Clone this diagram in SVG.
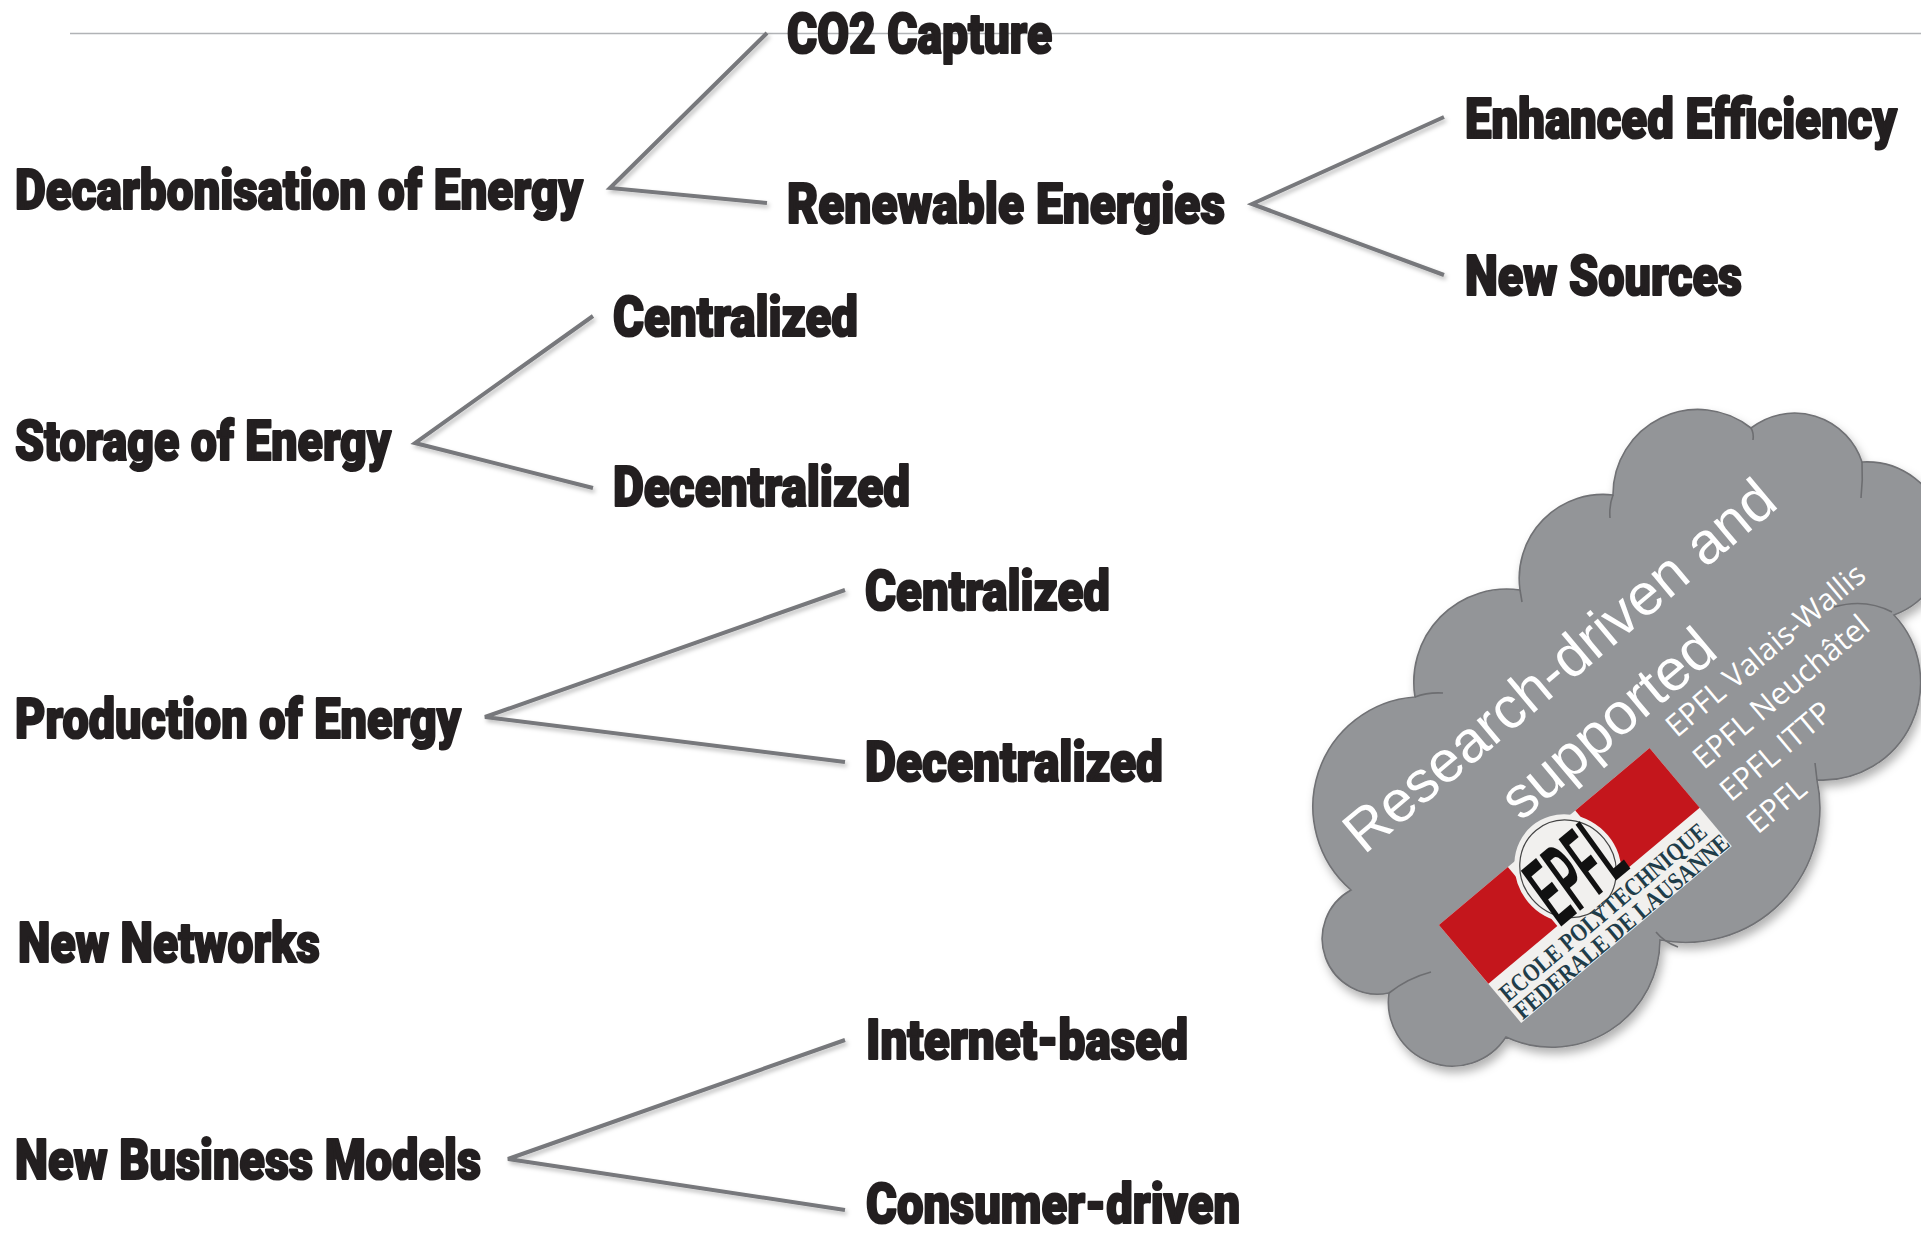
<svg xmlns="http://www.w3.org/2000/svg" width="1921" height="1234" viewBox="0 0 1921 1234">
<defs>
<style>
.lbl{font-family:Roboto,'Liberation Sans','DejaVu Sans',sans-serif;font-weight:900;font-size:56px;fill:#231f20;stroke:#231f20;stroke-width:2.2;stroke-linejoin:round}
.con{fill:none;stroke:#77787b;stroke-width:4;stroke-linejoin:miter}
.big{font-family:'Liberation Sans',Arial,sans-serif;font-size:58.5px;fill:#ffffff}
.sm{font-family:'Open Sans','Noto Sans',sans-serif;font-size:30.5px;fill:#ffffff}
.tick{fill:none;stroke:#6d6e71;stroke-width:1.6}
.band{font-family:'Liberation Serif','Times New Roman',serif;font-size:25px;font-weight:700;fill:#1f3d4a}
</style>
<filter id="lsh" x="-10%" y="-10%" width="120%" height="130%">
<feDropShadow dx="2" dy="3" stdDeviation="2" flood-color="#000" flood-opacity="0.25"/>
</filter>
<filter id="csh" x="-10%" y="-10%" width="125%" height="125%">
<feDropShadow dx="3" dy="6" stdDeviation="5" flood-color="#000" flood-opacity="0.3"/>
</filter>
</defs>
<rect x="0" y="0" width="1921" height="1234" fill="#ffffff"/>
<line x1="70" y1="33.5" x2="1921" y2="33.5" stroke="#b1b3b6" stroke-width="1.6"/>

<g id="connectors" filter="url(#lsh)">
<path class="con" d="M767 33 L610 188 L767 203"/>
<path class="con" d="M1444 117 L1252 204 L1444 275"/>
<path class="con" d="M593 316 L415 443 L593 488"/>
<path class="con" d="M845 590 L485 717 L845 762"/>
<path class="con" d="M845 1040 L508 1159 L845 1210"/>
</g>

<g id="n-co2"><text class="lbl" transform="translate(787,53) scale(0.7,1)" textLength="378.6" lengthAdjust="spacingAndGlyphs">CO2 Capture</text></g>
<g id="n-decarb"><text class="lbl" transform="translate(15,209) scale(0.7,1)" textLength="811.4" lengthAdjust="spacingAndGlyphs">Decarbonisation of Energy</text></g>
<g id="n-renew"><text class="lbl" transform="translate(787,223) scale(0.7,1)" textLength="625.7" lengthAdjust="spacingAndGlyphs">Renewable Energies</text></g>
<g id="n-enh"><text class="lbl" transform="translate(1465,138) scale(0.7,1)" textLength="617.1" lengthAdjust="spacingAndGlyphs">Enhanced Efficiency</text></g>
<g id="n-newsrc"><text class="lbl" transform="translate(1465,295) scale(0.7,1)" textLength="395.7" lengthAdjust="spacingAndGlyphs">New Sources</text></g>
<g id="n-s-cent"><text class="lbl" transform="translate(613,336) scale(0.7,1)" textLength="350" lengthAdjust="spacingAndGlyphs">Centralized</text></g>
<g id="n-storage"><text class="lbl" transform="translate(15,460) scale(0.7,1)" textLength="537.1" lengthAdjust="spacingAndGlyphs">Storage of Energy</text></g>
<g id="n-s-dec"><text class="lbl" transform="translate(613,506) scale(0.7,1)" textLength="424.3" lengthAdjust="spacingAndGlyphs">Decentralized</text></g>
<g id="n-p-cent"><text class="lbl" transform="translate(865,610) scale(0.7,1)" textLength="350" lengthAdjust="spacingAndGlyphs">Centralized</text></g>
<g id="n-prod"><text class="lbl" transform="translate(15,738) scale(0.7,1)" textLength="637.1" lengthAdjust="spacingAndGlyphs">Production of Energy</text></g>
<g id="n-p-dec"><text class="lbl" transform="translate(865,781) scale(0.7,1)" textLength="425.7" lengthAdjust="spacingAndGlyphs">Decentralized</text></g>
<g id="n-networks"><text class="lbl" transform="translate(18,962) scale(0.7,1)" textLength="431.4" lengthAdjust="spacingAndGlyphs">New Networks</text></g>
<g id="n-internet"><text class="lbl" transform="translate(866,1059) scale(0.7,1)" textLength="460" lengthAdjust="spacingAndGlyphs">Internet-based</text></g>
<g id="n-business"><text class="lbl" transform="translate(15,1179) scale(0.7,1)" textLength="665.7" lengthAdjust="spacingAndGlyphs">New Business Models</text></g>
<g id="n-consumer"><text class="lbl" transform="translate(866,1223) scale(0.7,1)" textLength="534.3" lengthAdjust="spacingAndGlyphs">Consumer-driven</text></g>

<g id="cloud">
<path filter="url(#csh)" fill="#939598" stroke="#707174" stroke-width="1.6" d="M1613 495 A85 85 0 0 1 1751 428 A71 71 0 0 1 1862 462 A79 79 0 0 1 1894 615 A98 98 0 0 1 1817 780 A134.5 134.5 0 0 1 1660 940 A108 108 0 0 1 1506 1037 A64 64 0 0 1 1389 993 A55.5 55.5 0 0 1 1351 890 A110 110 0 0 1 1415 697 A93 93 0 0 1 1520 590 A84 84 0 0 1 1613 495 Z"/>
<path class="tick" d="M1613 495 Q1609 505 1610 518"/>
<path class="tick" d="M1751 428 Q1754 433 1753 440"/>
<path class="tick" d="M1862 462 Q1863 480 1861 498"/>
<path class="tick" d="M1892 612 Q1865 598 1834 607"/>
<path class="tick" d="M1817 780 L1815 763"/>
<path class="tick" d="M1656 932 Q1664 942 1678 947"/>
<path class="tick" d="M1389 993 Q1408 978 1431 972"/>
<path class="tick" d="M1415 697 Q1428 692 1443 693"/>
<path class="tick" d="M1520 590 L1522 602"/>
<g transform="translate(1558,667) rotate(-40)">
<text class="big" x="2" y="19.5" text-anchor="middle">Research-driven and</text>
<text class="big" x="2" y="95" text-anchor="middle">supported</text>
<text class="sm" x="45" y="131">EPFL Valais-Wallis</text>
<text class="sm" x="45" y="173">EPFL Neuchâtel</text>
<text class="sm" x="45" y="215">EPFL ITTP</text>
<text class="sm" x="45" y="257">EPFL</text>
<g id="epfl-logo" transform="translate(-257,121)">
<rect x="0" y="0" width="275" height="128" fill="#f1f0ee"/>
<rect x="0" y="0" width="90" height="77" fill="#c4161c"/>
<rect x="178" y="0" width="97" height="78" fill="#c4161c"/>
<ellipse cx="135" cy="40" rx="52" ry="56" fill="#f1f0ee"/>
<ellipse cx="135" cy="40" rx="47" ry="50" fill="none" stroke="#444" stroke-width="1.2"/>
<text x="92" y="80" font-family="'Liberation Sans',Arial,sans-serif" font-style="italic" font-weight="700" font-size="100" fill="#111111" textLength="94" lengthAdjust="spacingAndGlyphs">EPFL</text>
<text class="band" x="3" y="104" textLength="262" lengthAdjust="spacingAndGlyphs">ECOLE POLYTECHNIQUE</text>
<text class="band" x="3" y="127" textLength="272" lengthAdjust="spacingAndGlyphs">FEDERALE DE LAUSANNE</text>
</g>
</g>
</g>
</svg>
